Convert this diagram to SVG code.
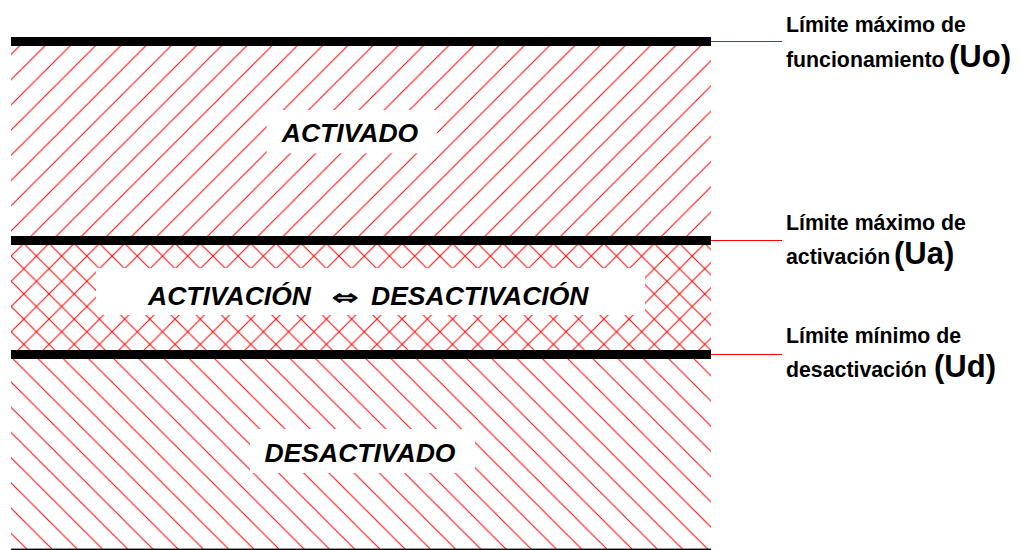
<svg xmlns="http://www.w3.org/2000/svg" width="1022" height="550" viewBox="0 0 1022 550">
  <defs>
    <pattern id="fwd" patternUnits="userSpaceOnUse" x="15.06" y="0" width="25.22" height="25.22">
      <path class="h" d="M0,25.22 L25.22,0 M-1,1 L1,-1 M24.22,26.22 L26.22,24.22"/>
    </pattern>
    <pattern id="back" patternUnits="userSpaceOnUse" x="7.3" y="0" width="25.22" height="25.22">
      <path class="h" d="M0,0 L25.22,25.22 M24.22,-1 L26.22,1 M-1,24.22 L1,26.22"/>
    </pattern>
  </defs>
  <style>
    .h { stroke: #ff0000; stroke-width: 1; fill: none; }
    .bar { fill: #000000; }
    .box { fill: #ffffff; }
    .lead { stroke: #ff0000; stroke-width: 1; fill: none; }
    .big { font-family: "Liberation Sans", Arial, sans-serif; font-weight: bold; font-style: italic; font-size: 26.5px; fill: #000000; }
    .lab { font-family: "Liberation Sans", Arial, sans-serif; font-weight: bold; font-size: 21.3px; fill: #000000; }
    .sym { font-family: "Liberation Sans", Arial, sans-serif; font-weight: bold; font-size: 31px; fill: #000000; }
    .arr { font-family: "DejaVu Sans", sans-serif; font-size: 22px; fill: #000000; stroke: #000000; stroke-width: 0.7px; }
  </style>
  <rect width="1022" height="550" fill="#ffffff"/>

  <g id="zone-activado">
    <rect x="11" y="41.5" width="700" height="199" fill="url(#fwd)"/>
    <rect class="box" x="266.7" y="110" width="170" height="43.3"/>
    <text class="big" x="350" y="142.3" text-anchor="middle">ACTIVADO</text>
  </g>

  <g id="zone-transicion">
    <rect x="11" y="240.5" width="700" height="114" fill="url(#fwd)"/>
    <rect x="11" y="240.5" width="700" height="114" fill="url(#back)"/>
    <rect class="box" x="96" y="268" width="549" height="47"/>
    <text class="big" x="148" y="305">ACTIVACIÓN</text>
    <text class="arr" x="345" y="305" text-anchor="middle" textLength="26.7" lengthAdjust="spacingAndGlyphs">⇔</text>
    <text class="big" x="371" y="305">DESACTIVACIÓN</text>
  </g>

  <g id="zone-desactivado">
    <rect x="11" y="354.5" width="700" height="194.5" fill="url(#back)"/>
    <rect class="box" x="250" y="429" width="225" height="44"/>
    <text class="big" x="360" y="462.3" text-anchor="middle">DESACTIVADO</text>
    <rect class="bar" x="11" y="548.6" width="700" height="1.4"/>
  </g>

  <g id="bar-uo"><rect class="bar" x="11" y="37" width="700" height="9"/></g>
  <g id="bar-ua"><rect class="bar" x="11" y="236" width="700" height="9"/></g>
  <g id="bar-ud"><rect class="bar" x="11" y="350" width="700" height="9"/></g>

  <g id="connectors">
    <line class="lead" x1="711" y1="41.5" x2="782" y2="41.5"/>
    <line class="lead" x1="711" y1="240.5" x2="782" y2="240.5"/>
    <line class="lead" x1="711" y1="354.5" x2="782" y2="354.5"/>
  </g>

  <g id="label-uo">
    <text class="lab" x="786" y="32.3">Límite máximo de</text>
    <text class="lab" x="786" y="66.7">funcionamiento</text>
    <text class="sym" x="949" y="66.7">(Uo)</text>
  </g>
  <g id="label-ua">
    <text class="lab" x="786" y="230">Límite máximo de</text>
    <text class="lab" x="786" y="264">activación</text>
    <text class="sym" x="894" y="264">(Ua)</text>
  </g>
  <g id="label-ud">
    <text class="lab" x="786" y="343.3">Límite mínimo de</text>
    <text class="lab" x="786" y="376.7">desactivación</text>
    <text class="sym" x="934" y="376.7">(Ud)</text>
  </g>
</svg>
